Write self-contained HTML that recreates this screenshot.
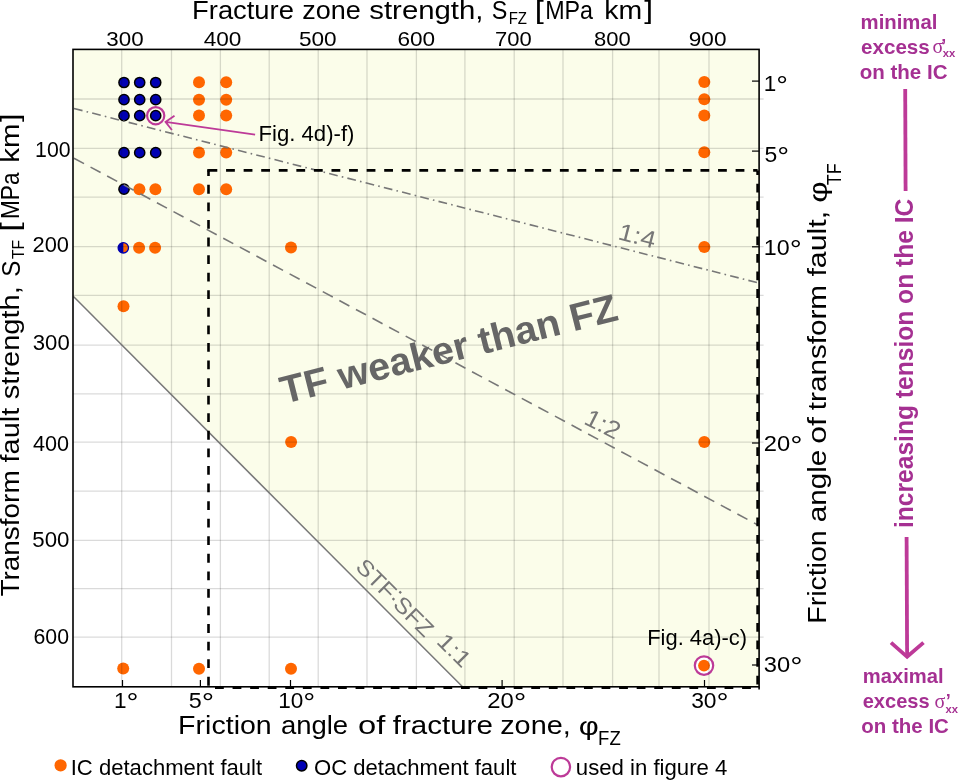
<!DOCTYPE html><html><head><meta charset="utf-8"><style>html,body{margin:0;padding:0;background:#fff;width:959px;height:780px;overflow:hidden}svg{display:block;will-change:transform}text{font-family:"Liberation Sans",sans-serif}</style></head><body>
<svg width="959" height="780" viewBox="0 0 959 780">
<polygon points="73,49.4 759.1,49.4 759.1,686.8 462.5,686.8 73,296.5" fill="#fbfdea"/>
<circle cx="124" cy="82.5" r="5.1" fill="#0000b4" stroke="#000" stroke-width="1.5"/>
<circle cx="139.7" cy="82.5" r="5.1" fill="#0000b4" stroke="#000" stroke-width="1.5"/>
<circle cx="155.7" cy="82.5" r="5.1" fill="#0000b4" stroke="#000" stroke-width="1.5"/>
<circle cx="124" cy="99.7" r="5.1" fill="#0000b4" stroke="#000" stroke-width="1.5"/>
<circle cx="139.7" cy="99.7" r="5.1" fill="#0000b4" stroke="#000" stroke-width="1.5"/>
<circle cx="155.7" cy="99.7" r="5.1" fill="#0000b4" stroke="#000" stroke-width="1.5"/>
<circle cx="124" cy="115.7" r="5.1" fill="#0000b4" stroke="#000" stroke-width="1.5"/>
<circle cx="139.7" cy="115.7" r="5.1" fill="#0000b4" stroke="#000" stroke-width="1.5"/>
<circle cx="155.7" cy="115.7" r="5.1" fill="#0000b4" stroke="#000" stroke-width="1.5"/>
<circle cx="124" cy="152.7" r="5.1" fill="#0000b4" stroke="#000" stroke-width="1.5"/>
<circle cx="139.7" cy="152.7" r="5.1" fill="#0000b4" stroke="#000" stroke-width="1.5"/>
<circle cx="155.7" cy="152.7" r="5.1" fill="#0000b4" stroke="#000" stroke-width="1.5"/>
<circle cx="124" cy="189.2" r="5.1" fill="#0000b4" stroke="#000" stroke-width="1.5"/>
<circle cx="123.3" cy="247.8" r="5.2" fill="#ff6600"/>
<path d="M123.3,242.6 A5.2,5.2 0 0 0 123.3,253 Z" fill="#0000b4"/>
<circle cx="123.3" cy="247.8" r="5.2" fill="none" stroke="#0000b4" stroke-width="1.3"/>
<circle cx="199" cy="82.3" r="6.0" fill="#ff6600"/>
<circle cx="226.2" cy="82.3" r="6.0" fill="#ff6600"/>
<circle cx="199" cy="99.7" r="6.0" fill="#ff6600"/>
<circle cx="226.2" cy="99.7" r="6.0" fill="#ff6600"/>
<circle cx="199" cy="115.6" r="6.0" fill="#ff6600"/>
<circle cx="226.2" cy="115.6" r="6.0" fill="#ff6600"/>
<circle cx="199" cy="152.6" r="6.0" fill="#ff6600"/>
<circle cx="226.2" cy="152.6" r="6.0" fill="#ff6600"/>
<circle cx="199" cy="189.2" r="6.0" fill="#ff6600"/>
<circle cx="226.2" cy="189.2" r="6.0" fill="#ff6600"/>
<circle cx="139.4" cy="189.2" r="6.0" fill="#ff6600"/>
<circle cx="155.4" cy="189.2" r="6.0" fill="#ff6600"/>
<circle cx="139.1" cy="247.8" r="6.0" fill="#ff6600"/>
<circle cx="155.1" cy="247.8" r="6.0" fill="#ff6600"/>
<circle cx="291" cy="247.5" r="6.0" fill="#ff6600"/>
<circle cx="123.5" cy="306.2" r="6.0" fill="#ff6600"/>
<circle cx="291.1" cy="441.9" r="6.0" fill="#ff6600"/>
<circle cx="704.3" cy="82" r="6.0" fill="#ff6600"/>
<circle cx="704.3" cy="99.3" r="6.0" fill="#ff6600"/>
<circle cx="704.3" cy="115.5" r="6.0" fill="#ff6600"/>
<circle cx="704.3" cy="152.2" r="6.0" fill="#ff6600"/>
<circle cx="704.3" cy="247.1" r="6.0" fill="#ff6600"/>
<circle cx="704.3" cy="441.9" r="6.0" fill="#ff6600"/>
<circle cx="123.2" cy="668.6" r="6.0" fill="#ff6600"/>
<circle cx="199" cy="668.8" r="6.0" fill="#ff6600"/>
<circle cx="291" cy="668.8" r="6.0" fill="#ff6600"/>
<circle cx="704" cy="665.6" r="9.2" fill="#fff" stroke="#bd3a98" stroke-width="2.2"/>
<circle cx="704" cy="665.6" r="5.9" fill="#ff6600"/>
<circle cx="155.7" cy="115.7" r="8.6" fill="none" stroke="#bd3a98" stroke-width="2.2"/>
<line x1="121.7" y1="49.4" x2="121.7" y2="686.8" stroke="rgba(0,0,0,0.145)" stroke-width="1.3"/>
<line x1="171.5" y1="49.4" x2="171.5" y2="686.8" stroke="rgba(0,0,0,0.145)" stroke-width="1.3"/>
<line x1="220.4" y1="49.4" x2="220.4" y2="686.8" stroke="rgba(0,0,0,0.145)" stroke-width="1.3"/>
<line x1="269.2" y1="49.4" x2="269.2" y2="686.8" stroke="rgba(0,0,0,0.145)" stroke-width="1.3"/>
<line x1="318.2" y1="49.4" x2="318.2" y2="686.8" stroke="rgba(0,0,0,0.145)" stroke-width="1.3"/>
<line x1="367" y1="49.4" x2="367" y2="686.8" stroke="rgba(0,0,0,0.145)" stroke-width="1.3"/>
<line x1="416.4" y1="49.4" x2="416.4" y2="686.8" stroke="rgba(0,0,0,0.145)" stroke-width="1.3"/>
<line x1="464.9" y1="49.4" x2="464.9" y2="686.8" stroke="rgba(0,0,0,0.145)" stroke-width="1.3"/>
<line x1="514.2" y1="49.4" x2="514.2" y2="686.8" stroke="rgba(0,0,0,0.145)" stroke-width="1.3"/>
<line x1="563" y1="49.4" x2="563" y2="686.8" stroke="rgba(0,0,0,0.145)" stroke-width="1.3"/>
<line x1="612.6" y1="49.4" x2="612.6" y2="686.8" stroke="rgba(0,0,0,0.145)" stroke-width="1.3"/>
<line x1="659" y1="49.4" x2="659" y2="686.8" stroke="rgba(0,0,0,0.145)" stroke-width="1.3"/>
<line x1="709" y1="49.4" x2="709" y2="686.8" stroke="rgba(0,0,0,0.145)" stroke-width="1.3"/>
<line x1="73" y1="99" x2="763.6" y2="99" stroke="rgba(0,0,0,0.145)" stroke-width="1.3"/>
<line x1="73" y1="148.3" x2="763.6" y2="148.3" stroke="rgba(0,0,0,0.145)" stroke-width="1.3"/>
<line x1="73" y1="197.2" x2="763.6" y2="197.2" stroke="rgba(0,0,0,0.145)" stroke-width="1.3"/>
<line x1="73" y1="246.6" x2="763.6" y2="246.6" stroke="rgba(0,0,0,0.145)" stroke-width="1.3"/>
<line x1="73" y1="295.3" x2="763.6" y2="295.3" stroke="rgba(0,0,0,0.145)" stroke-width="1.3"/>
<line x1="73" y1="345.1" x2="763.6" y2="345.1" stroke="rgba(0,0,0,0.145)" stroke-width="1.3"/>
<line x1="73" y1="393.8" x2="763.6" y2="393.8" stroke="rgba(0,0,0,0.145)" stroke-width="1.3"/>
<line x1="73" y1="442.2" x2="763.6" y2="442.2" stroke="rgba(0,0,0,0.145)" stroke-width="1.3"/>
<line x1="73" y1="491.2" x2="763.6" y2="491.2" stroke="rgba(0,0,0,0.145)" stroke-width="1.3"/>
<line x1="73" y1="540.3" x2="763.6" y2="540.3" stroke="rgba(0,0,0,0.145)" stroke-width="1.3"/>
<line x1="73" y1="588.7" x2="763.6" y2="588.7" stroke="rgba(0,0,0,0.145)" stroke-width="1.3"/>
<line x1="73" y1="637.1" x2="763.6" y2="637.1" stroke="rgba(0,0,0,0.145)" stroke-width="1.3"/>
<line x1="73" y1="108.2" x2="757.5" y2="282.7" stroke="#777" stroke-width="1.6" stroke-dasharray="8.8 4.2 1.6 4.21" stroke-dashoffset="-1.0"/>
<line x1="73" y1="157.7" x2="757.5" y2="524.8" stroke="#777" stroke-width="1.6" stroke-dasharray="11.4 7.42" stroke-dashoffset="-1.1"/>
<line x1="73.5" y1="296.5" x2="462.5" y2="686.8" stroke="#777" stroke-width="1.5"/>
<line x1="208.5" y1="170.4" x2="757.6" y2="170.4" stroke="#000" stroke-width="2.6" stroke-dasharray="8.8 8.77" fill="none"/>
<line x1="757.6" y1="170.4" x2="757.6" y2="687.8" stroke="#000" stroke-width="2.6" stroke-dasharray="8.8 8.77" fill="none" stroke-dashoffset="4.3"/>
<line x1="208.5" y1="170.4" x2="208.5" y2="687.8" stroke="#000" stroke-width="2.6" stroke-dasharray="8.8 8.77" fill="none" stroke-dashoffset="3.1"/>
<rect x="207.2" y="169.1" width="2.6" height="2.6" fill="#000"/>
<line x1="208.5" y1="687.8" x2="757.6" y2="687.8" stroke="#000" stroke-width="2.6" stroke-dasharray="8.8 8.77" fill="none" stroke-dashoffset="11.07"/>
<rect x="73" y="49.4" width="686.1" height="637.4" fill="none" stroke="#000" stroke-width="1.6"/>
<line x1="759.1" y1="686.8" x2="759.1" y2="689.6" stroke="#000" stroke-width="1.6"/>
<line x1="752" y1="81.1" x2="759.1" y2="81.1" stroke="#000" stroke-width="1.2"/>
<line x1="752" y1="151.1" x2="759.1" y2="151.1" stroke="#000" stroke-width="1.2"/>
<line x1="752" y1="246.8" x2="759.1" y2="246.8" stroke="#000" stroke-width="1.2"/>
<line x1="752" y1="443" x2="759.1" y2="443" stroke="#000" stroke-width="1.2"/>
<line x1="752" y1="665" x2="759.1" y2="665" stroke="#000" stroke-width="1.2"/>
<line x1="122.5" y1="680" x2="122.5" y2="686.8" stroke="#000" stroke-width="1.2"/>
<line x1="200.4" y1="680" x2="200.4" y2="686.8" stroke="#000" stroke-width="1.2"/>
<line x1="290.5" y1="680" x2="290.5" y2="686.8" stroke="#000" stroke-width="1.2"/>
<line x1="502.1" y1="680" x2="502.1" y2="686.8" stroke="#000" stroke-width="1.2"/>
<line x1="704.5" y1="680" x2="704.5" y2="686.8" stroke="#000" stroke-width="1.2"/>
<path d="M255.1,134.6 L165.5,121.9 M174.5,115.8 L165.5,121.9 L171.9,130" fill="none" stroke="#bd3a98" stroke-width="1.8"/>
<circle cx="60.6" cy="765.4" r="6.1" fill="#ff6600"/>
<circle cx="301.7" cy="765.7" r="5.2" fill="#0000b4" stroke="#000" stroke-width="1.5"/>
<circle cx="560.9" cy="767.1" r="9.2" fill="none" stroke="#bd3a98" stroke-width="2.2"/>
<text id="tt1a" font-size="26" fill="#000" textLength="101.80" lengthAdjust="spacingAndGlyphs" x="192.09" y="18.8">Fracture</text>
<text id="tt1b" font-size="26" fill="#000" textLength="58.57" lengthAdjust="spacingAndGlyphs" x="302.26" y="18.8">zone</text>
<text id="tt1c" font-size="26" fill="#000" textLength="114.26" lengthAdjust="spacingAndGlyphs" x="369.28" y="18.8">strength,</text>
<text id="tt2" font-size="26" fill="#000" textLength="15.59" lengthAdjust="spacingAndGlyphs" x="491.83" y="18.8">S</text>
<text id="tt3" font-size="17.4" fill="#000" textLength="18.34" lengthAdjust="spacingAndGlyphs" x="508.71" y="24">FZ</text>
<text id="tt4a" font-size="26" fill="#000" textLength="9.08" lengthAdjust="spacingAndGlyphs" x="534.74" y="18.8">[</text>
<text id="tt4b" font-size="26" fill="#000" textLength="47.88" lengthAdjust="spacingAndGlyphs" x="545.20" y="18.8">MPa</text>
<text id="tt4c" font-size="26" fill="#000" textLength="37.93" lengthAdjust="spacingAndGlyphs" x="604.36" y="18.8">km</text>
<text id="tt4d" font-size="26" fill="#000" textLength="8.78" lengthAdjust="spacingAndGlyphs" x="644.39" y="18.8">]</text>
<text id="bt1a" font-size="25.7" fill="#000" textLength="93.63" lengthAdjust="spacingAndGlyphs" x="178.14" y="734.3">Friction</text>
<text id="bt1b" font-size="25.7" fill="#000" textLength="67.19" lengthAdjust="spacingAndGlyphs" x="280.93" y="734.3">angle</text>
<text id="bt1c" font-size="25.7" fill="#000" textLength="27.31" lengthAdjust="spacingAndGlyphs" x="358.14" y="734.3">of</text>
<text id="bt1d" font-size="25.7" fill="#000" textLength="100.20" lengthAdjust="spacingAndGlyphs" x="392.69" y="734.3">fracture</text>
<text id="bt1e" font-size="25.7" fill="#000" textLength="70.53" lengthAdjust="spacingAndGlyphs" x="500.21" y="734.3">zone,</text>
<text id="bt2" font-size="25.7" fill="#000" textLength="20.02" lengthAdjust="spacingAndGlyphs" x="578.89" y="735">φ</text>
<text id="bt3" font-size="20.4" fill="#000" textLength="22.64" lengthAdjust="spacingAndGlyphs" x="598.12" y="745">FZ</text>
<text id="tk300" font-size="21" fill="#000" textLength="37.29" lengthAdjust="spacingAndGlyphs" x="106.39" y="45.9">300</text>
<text id="tk400" font-size="21" fill="#000" textLength="37.70" lengthAdjust="spacingAndGlyphs" x="203.70" y="45.9">400</text>
<text id="tk500" font-size="21" fill="#000" textLength="37.73" lengthAdjust="spacingAndGlyphs" x="298.94" y="45.9">500</text>
<text id="tk600" font-size="21" fill="#000" textLength="37.73" lengthAdjust="spacingAndGlyphs" x="397.46" y="45.9">600</text>
<text id="tk700" font-size="21" fill="#000" textLength="36.70" lengthAdjust="spacingAndGlyphs" x="494.97" y="45.9">700</text>
<text id="tk800" font-size="21" fill="#000" textLength="36.68" lengthAdjust="spacingAndGlyphs" x="594.00" y="45.9">800</text>
<text id="tk900" font-size="21" fill="#000" textLength="37.71" lengthAdjust="spacingAndGlyphs" x="688.78" y="45.9">900</text>
<text id="lk100" font-size="21.2" fill="#000" textLength="35.50" lengthAdjust="spacingAndGlyphs" x="35.10" y="157.2">100</text>
<text id="lk200" font-size="21.2" fill="#000" textLength="36.49" lengthAdjust="spacingAndGlyphs" x="32.50" y="252">200</text>
<text id="lk300" font-size="21.2" fill="#000" textLength="36.91" lengthAdjust="spacingAndGlyphs" x="32.79" y="350.3">300</text>
<text id="lk400" font-size="21.2" fill="#000" textLength="36.10" lengthAdjust="spacingAndGlyphs" x="33.00" y="450.8">400</text>
<text id="lk500" font-size="21.2" fill="#000" textLength="37.14" lengthAdjust="spacingAndGlyphs" x="32.27" y="546.9">500</text>
<text id="lk600" font-size="21.2" fill="#000" textLength="35.51" lengthAdjust="spacingAndGlyphs" x="33.50" y="644.1">600</text>
<text id="rk1" font-size="22" fill="#000" textLength="24.21" lengthAdjust="spacingAndGlyphs" x="763.70" y="90.75">1<tspan font-size="28.5" dy="4">°</tspan></text>
<text id="rk5" font-size="22" fill="#000" textLength="24.66" lengthAdjust="spacingAndGlyphs" x="764.58" y="162.2">5<tspan font-size="28.5" dy="4">°</tspan></text>
<text id="rk10" font-size="22" fill="#000" textLength="37.92" lengthAdjust="spacingAndGlyphs" x="763.81" y="255">10<tspan font-size="28.5" dy="4">°</tspan></text>
<text id="rk20" font-size="22" fill="#000" textLength="38.68" lengthAdjust="spacingAndGlyphs" x="763.85" y="450.9">20<tspan font-size="28.5" dy="4">°</tspan></text>
<text id="rk30" font-size="22" fill="#000" textLength="38.71" lengthAdjust="spacingAndGlyphs" x="763.82" y="672.1">30<tspan font-size="28.5" dy="4">°</tspan></text>
<text id="bk1" font-size="21.5" fill="#000" textLength="24.53" lengthAdjust="spacingAndGlyphs" x="114.01" y="708">1<tspan font-size="28.5" dy="4">°</tspan></text>
<text id="bk5" font-size="21.5" fill="#000" textLength="25.39" lengthAdjust="spacingAndGlyphs" x="188.77" y="708">5<tspan font-size="28.5" dy="4">°</tspan></text>
<text id="bk10" font-size="21.5" fill="#000" textLength="37.07" lengthAdjust="spacingAndGlyphs" x="278.28" y="708">10<tspan font-size="28.5" dy="4">°</tspan></text>
<text id="bk20" font-size="21.5" fill="#000" textLength="39.20" lengthAdjust="spacingAndGlyphs" x="487.18" y="708">20<tspan font-size="28.5" dy="4">°</tspan></text>
<text id="bk30" font-size="21.5" fill="#000" textLength="37.46" lengthAdjust="spacingAndGlyphs" x="691.15" y="708">30<tspan font-size="28.5" dy="4">°</tspan></text>
<text id="lt1a" font-size="25.7" fill="#000" textLength="126.24" lengthAdjust="spacingAndGlyphs" x="-596.55" y="0" transform="translate(19.4,0) rotate(-90)">Transform</text>
<text id="lt1b" font-size="25.7" fill="#000" textLength="54.78" lengthAdjust="spacingAndGlyphs" x="-462.49" y="0" transform="translate(19.4,0) rotate(-90)">fault</text>
<text id="lt1c" font-size="25.7" fill="#000" textLength="112.88" lengthAdjust="spacingAndGlyphs" x="-399.20" y="0" transform="translate(19.4,0) rotate(-90)">strength,</text>
<text id="lt2" font-size="25.7" fill="#000" textLength="16.15" lengthAdjust="spacingAndGlyphs" x="-276.71" y="0" transform="translate(19.6,0) rotate(-90)">S</text>
<text id="lt3" font-size="16.7" fill="#000" textLength="19.35" lengthAdjust="spacingAndGlyphs" x="-259.12" y="0" transform="translate(23.7,0) rotate(-90)">TF</text>
<text id="lt4a" font-size="25.7" fill="#000" textLength="9.63" lengthAdjust="spacingAndGlyphs" x="-231.74" y="0" transform="translate(19.4,0) rotate(-90)">[</text>
<text id="lt4b" font-size="25.7" fill="#000" textLength="46.61" lengthAdjust="spacingAndGlyphs" x="-219.03" y="0" transform="translate(19.4,0) rotate(-90)">MPa</text>
<text id="lt4c" font-size="25.7" fill="#000" textLength="39.23" lengthAdjust="spacingAndGlyphs" x="-162.78" y="0" transform="translate(19.4,0) rotate(-90)">km</text>
<text id="lt4d" font-size="25.7" fill="#000" textLength="8.26" lengthAdjust="spacingAndGlyphs" x="-122.00" y="0" transform="translate(19.4,0) rotate(-90)">]</text>
<text id="rt1a" font-size="26" fill="#000" textLength="93.27" lengthAdjust="spacingAndGlyphs" x="-623.69" y="0" transform="translate(826.2,0) rotate(-90)">Friction</text>
<text id="rt1b" font-size="26" fill="#000" textLength="72.39" lengthAdjust="spacingAndGlyphs" x="-522.15" y="0" transform="translate(826.2,0) rotate(-90)">angle</text>
<text id="rt1c" font-size="26" fill="#000" textLength="26.62" lengthAdjust="spacingAndGlyphs" x="-443.83" y="0" transform="translate(826.2,0) rotate(-90)">of</text>
<text id="rt1d" font-size="26" fill="#000" textLength="125.08" lengthAdjust="spacingAndGlyphs" x="-410.17" y="0" transform="translate(826.2,0) rotate(-90)">transform</text>
<text id="rt1e" font-size="26" fill="#000" textLength="65.67" lengthAdjust="spacingAndGlyphs" x="-276.55" y="0" transform="translate(826.2,0) rotate(-90)">fault,</text>
<text id="rt2" font-size="26" fill="#000" textLength="21.34" lengthAdjust="spacingAndGlyphs" x="-202.68" y="0" transform="translate(827,0) rotate(-90)">φ</text>
<text id="rt3" font-size="20.7" fill="#000" textLength="21.92" lengthAdjust="spacingAndGlyphs" x="-185.31" y="0" transform="translate(841,0) rotate(-90)">TF</text>
<text id="f1" font-size="21.5" fill="#000" textLength="95.95" lengthAdjust="spacingAndGlyphs" x="258.48" y="141.2">Fig. 4d)-f)</text>
<text id="f2" font-size="21.8" fill="#000" textLength="99.76" lengthAdjust="spacingAndGlyphs" x="647.23" y="645">Fig. 4a)-c)</text>
<text id="lg1" font-size="22.6" fill="#000" textLength="191.39" lengthAdjust="spacingAndGlyphs" x="70.73" y="774.8">IC detachment fault</text>
<text id="lg2" font-size="22.6" fill="#000" textLength="202.42" lengthAdjust="spacingAndGlyphs" x="314.00" y="774.8">OC detachment fault</text>
<text id="lg3" font-size="22.6" fill="#000" textLength="151.59" lengthAdjust="spacingAndGlyphs" x="575.81" y="774.8">used in figure 4</text>
<text id="a1" font-size="19.8" fill="#a53092" font-weight="bold" textLength="76.81" lengthAdjust="spacingAndGlyphs" x="860.59" y="28.8">minimal</text>
<text id="a2" font-size="19.8" fill="#a53092" font-weight="bold" textLength="68.80" lengthAdjust="spacingAndGlyphs" x="861.00" y="53.8">excess</text>
<text id="a3" font-size="19.8" fill="#a53092" font-weight="bold" textLength="87.80" lengthAdjust="spacingAndGlyphs" x="859.70" y="78.5">on the IC</text>
<text id="a4" font-size="19.8" fill="#a53092" font-weight="bold" textLength="80.80" lengthAdjust="spacingAndGlyphs" x="862.79" y="682.9">maximal</text>
<text id="a5" font-size="19.8" fill="#a53092" font-weight="bold" textLength="66.98" lengthAdjust="spacingAndGlyphs" x="862.70" y="707.7">excess</text>
<text id="a6" font-size="19.8" fill="#a53092" font-weight="bold" textLength="87.59" lengthAdjust="spacingAndGlyphs" x="861.30" y="732.8">on the IC</text>
<text id="inc" font-size="25.5" fill="#a53092" font-weight="bold" textLength="329.37" lengthAdjust="spacingAndGlyphs" x="-528.04" y="0" transform="translate(913,0) rotate(-90)">increasing tension on the IC</text>
<text id="tw" font-size="38.8" fill="#666666" font-weight="bold" textLength="346.20" lengthAdjust="spacingAndGlyphs" x="-0.19" y="0" transform="translate(284.3,404.0) rotate(-14.1)">TF weaker than FZ</text>
<text id="r14" font-size="24" fill="#777" textLength="37.68" lengthAdjust="spacingAndGlyphs" x="-1.03" y="0" transform="translate(618,239.3) rotate(14.3)">1:4</text>
<text id="r12" font-size="24.5" fill="#777" textLength="36.62" lengthAdjust="spacingAndGlyphs" x="-0.30" y="0" transform="translate(583,423.3) rotate(27)">1:2</text>
<text id="r11" font-size="22.5" fill="#777" textLength="99.23" lengthAdjust="spacingAndGlyphs" x="0.17" y="0" transform="translate(354.4,568.0) rotate(45)">STF<tspan dy="-4.5">:</tspan><tspan dy="4.5">SFZ</tspan></text>
<text id="r11b" font-size="22.5" fill="#777" textLength="37.59" lengthAdjust="spacingAndGlyphs" x="110.04" y="0" transform="translate(357.8,564.6) rotate(45)">1:1</text>
<text id="s1s" x="932.4" y="53.0" style="font-family:&quot;Liberation Serif&quot;,serif" font-size="20" fill="#a53092">σ</text>
<text id="s1p" x="941.2" y="51.6" font-weight="bold" font-size="18" fill="#a53092">’</text>
<text id="s1x" x="942.8" y="57.0" font-weight="bold" font-size="10.5" fill="#a53092" textLength="12.5" lengthAdjust="spacingAndGlyphs">xx</text>
<text id="s2s" x="934.4" y="707.5" style="font-family:&quot;Liberation Serif&quot;,serif" font-size="20" fill="#a53092">σ</text>
<text id="s2p" x="945.8" y="706.6" font-weight="bold" font-size="18" fill="#a53092">’</text>
<text id="s2x" x="945.5" y="712.9" font-weight="bold" font-size="10.5" fill="#a53092" textLength="12.5" lengthAdjust="spacingAndGlyphs">xx</text>
<line x1="905.2" y1="89" x2="905.6" y2="191" stroke="#bd3a98" stroke-width="3.8"/>
<line x1="906.6" y1="537" x2="907.1" y2="655" stroke="#bd3a98" stroke-width="3.8"/>
<path d="M891,642.6 L907.1,656.8 L923.5,642.6" fill="none" stroke="#bd3a98" stroke-width="3.8"/>
</svg></body></html>
